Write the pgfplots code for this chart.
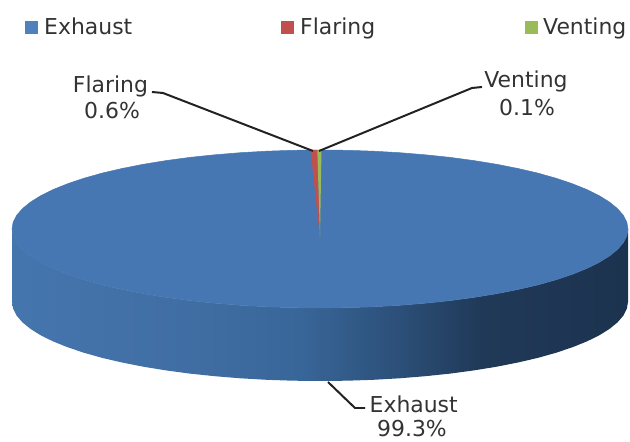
\documentclass[border=0pt]{standalone}
\usepackage{fontspec}
\setmainfont{DejaVu Sans}
\usepackage{pgfplots}
\pgfplotsset{compat=1.18}

\definecolor{topblue}{HTML}{4777B2}
\definecolor{legblue}{HTML}{4F81BD}
\definecolor{flaring}{HTML}{C0504D}
\definecolor{venting}{HTML}{9BBB59}
\definecolor{leader}{HTML}{222222}
\definecolor{lab}{HTML}{333333}

% side of the disc, dark towards the right (25bp = left edge, 75bp = right edge)
\pgfdeclarehorizontalshading{pieside}{100bp}{
  rgb(0bp)=(.27,.46,.68);
  rgb(25bp)=(.27,.46,.68);
  rgb(40bp)=(.25,.43,.64);
  rgb(48.4bp)=(.22,.40,.60);
  rgb(56.5bp)=(.17,.31,.47);
  rgb(63bp)=(.125,.225,.345);
  rgb(75bp)=(.11,.2,.31);
  rgb(100bp)=(.11,.2,.31)}

\tikzset{lbl/.style={inner sep=0pt, text=lab, font=\fontsize{22}{26}\selectfont}}

\begin{document}
\begin{tikzpicture}
\useasboundingbox (0,0) rectangle (630bp,442bp);
\begin{axis}[
    at={(0,0)}, anchor=south west,
    scale only axis,
    width=630bp, height=442bp,
    xmin=0, xmax=630,
    ymin=0, ymax=442,
    axis lines=none,
    clip=false,
]

% side
\addplot[draw=none, shading=pieside] coordinates {
  (12,213)(13.2,206.1)(16.7,199.3)(22.5,192.6)(30.6,186)(40.9,179.6)(53.3,173.5)
  (67.7,167.7)(84.1,162.2)(102.2,157.1)(122,152.5)(143.3,148.3)(166,144.6)
  (189.8,141.4)(214.7,138.8)(240.3,136.7)(266.5,135.2)(293.1,134.3)(320,134)
  (346.9,134.3)(373.5,135.2)(399.7,136.7)(425.3,138.8)(450.2,141.4)(474,144.6)
  (496.7,148.3)(518,152.5)(537.8,157.1)(555.9,162.2)(572.3,167.7)(586.7,173.5)
  (599.1,179.6)(609.4,186)(617.5,192.6)(623.3,199.3)(626.8,206.1)(628,213)
  (628,140)(626.8,133.1)(623.3,126.3)(617.5,119.6)(609.4,113)(599.1,106.6)
  (586.7,100.5)(572.3,94.7)(555.9,89.2)(537.8,84.1)(518,79.5)(496.7,75.3)
  (474,71.6)(450.2,68.4)(425.3,65.8)(399.7,63.7)(373.5,62.2)(346.9,61.3)(320,61)
  (293.1,61.3)(266.5,62.2)(240.3,63.7)(214.7,65.8)(189.8,68.4)(166,71.6)
  (143.3,75.3)(122,79.5)(102.2,84.1)(84.1,89.2)(67.7,94.7)(53.3,100.5)
  (40.9,106.6)(30.6,113)(22.5,119.6)(16.7,126.3)(13.2,133.1)(12,140)
} -- cycle;

% top: Exhaust 99.3
\addplot[draw=topblue, line width=0.5pt, fill=topblue] coordinates {
  (12,213)(13.2,219.9)(16.7,226.7)(22.5,233.4)(30.6,240)(40.9,246.4)(53.3,252.5)
  (67.7,258.3)(84.1,263.8)(102.2,268.9)(122,273.5)(143.3,277.7)(166,281.4)
  (189.8,284.6)(214.7,287.2)(240.3,289.3)(266.5,290.8)(293.1,291.7)(320,292)
  (346.9,291.7)(373.5,290.8)(399.7,289.3)(425.3,287.2)(450.2,284.6)(474,281.4)
  (496.7,277.7)(518,273.5)(537.8,268.9)(555.9,263.8)(572.3,258.3)(586.7,252.5)
  (599.1,246.4)(609.4,240)(617.5,233.4)(623.3,226.7)(626.8,219.9)(628,213)
  (626.8,206.1)(623.3,199.3)(617.5,192.6)(609.4,186)(599.1,179.6)(586.7,173.5)
  (572.3,167.7)(555.9,162.2)(537.8,157.1)(518,152.5)(496.7,148.3)(474,144.6)
  (450.2,141.4)(425.3,138.8)(399.7,136.7)(373.5,135.2)(346.9,134.3)(320,134)
  (293.1,134.3)(266.5,135.2)(240.3,136.7)(214.7,138.8)(189.8,141.4)(166,144.6)
  (143.3,148.3)(122,152.5)(102.2,157.1)(84.1,162.2)(67.7,167.7)(53.3,173.5)
  (40.9,179.6)(30.6,186)(22.5,192.6)(16.7,199.3)(13.2,206.1)
} -- cycle;

% Flaring 0.6, Venting 0.1
\addplot[draw=none, fill=flaring] coordinates {(310.5,292)(317.3,292)(320,205)} -- cycle;
\addplot[draw=none, fill=venting] coordinates {(317.3,292)(321.5,292)(320,205)} -- cycle;

% leader lines
\addplot[leader, line width=2pt, line join=round] coordinates {(152,350)(163,349)(313,291)};
\addplot[leader, line width=2pt, line join=round] coordinates {(482,355)(472,354)(319,291)};
\addplot[leader, line width=2pt, line join=round] coordinates {(328,60)(355,34)(365,34)};

% legend keys
\addplot[only marks, mark=square*, mark size=6pt, color=legblue] coordinates {(31,414.5)};
\addplot[only marks, mark=square*, mark size=6pt, color=flaring] coordinates {(287,414.5)};
\addplot[only marks, mark=square*, mark size=6pt, color=venting] coordinates {(531.5,414.5)};

\node[lbl, anchor=base west] at (axis cs:44,407) {Exhaust};
\node[lbl, anchor=base west] at (axis cs:300,407) {Flaring};
\node[lbl, anchor=base west] at (axis cs:543,407) {Venting};

\node[lbl, anchor=base] at (axis cs:110.5,349) {Flaring};
\node[lbl, anchor=base] at (axis cs:112,323) {0.6\%};
\node[lbl, anchor=base] at (axis cs:526,354) {Venting};
\node[lbl, anchor=base] at (axis cs:527,326) {0.1\%};
\node[lbl, anchor=base] at (axis cs:413.7,30) {Exhaust};
\node[lbl, anchor=base] at (axis cs:412,5.5) {99.3\%};

\end{axis}
\end{tikzpicture}
\end{document}
